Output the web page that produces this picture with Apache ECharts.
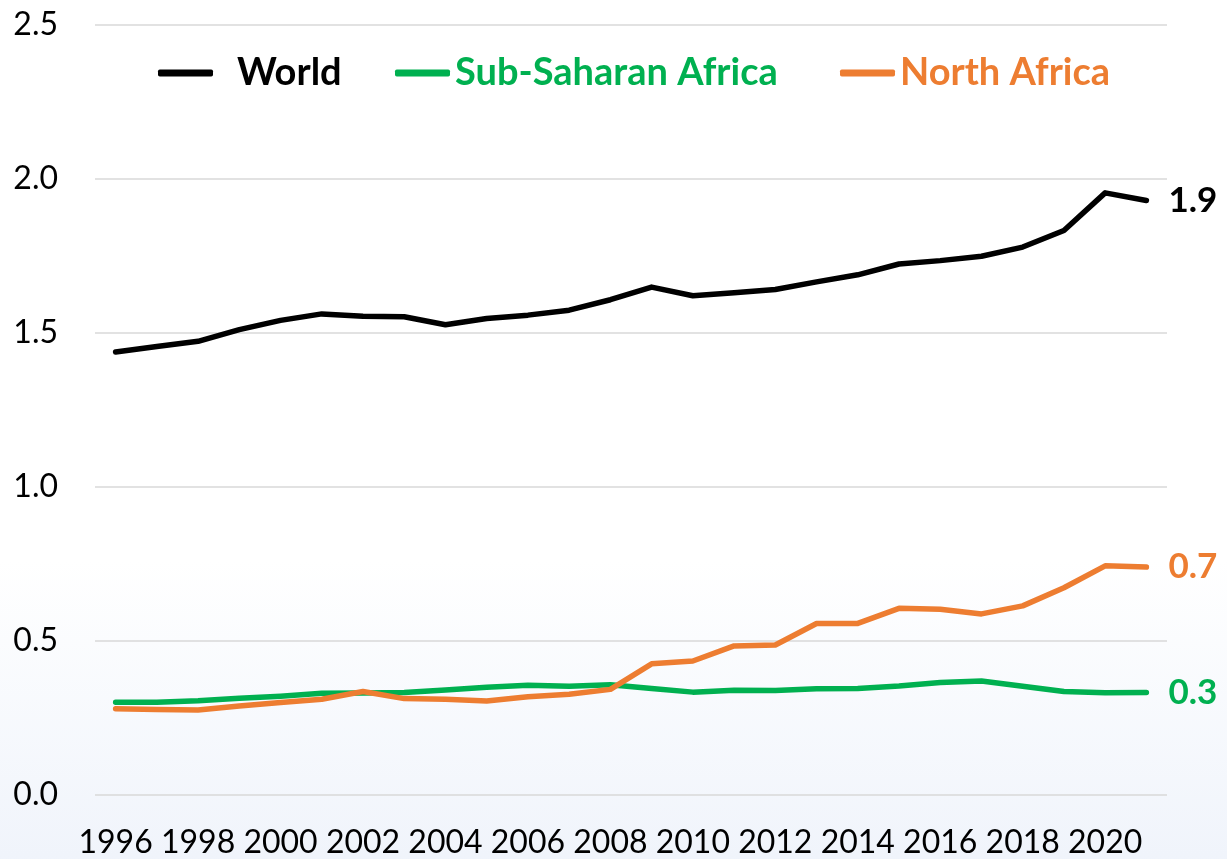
<!DOCTYPE html>
<html>
<head>
<meta charset="utf-8">
<script src="https://cdn.jsdelivr.net/npm/echarts@6/dist/echarts.min.js"></script>
<style>
html,body{margin:0;padding:0;background:#fff;}
#c{width:1227px;height:859px;}
</style>
</head>
<body>
<div id="c"></div>
<script>
var years = ['1996','1997','1998','1999','2000','2001','2002','2003','2004','2005','2006','2007','2008','2009','2010','2011','2012','2013','2014','2015','2016','2017','2018','2019','2020','2021'];
var world = [1.438,1.456,1.473,1.511,1.541,1.562,1.554,1.553,1.527,1.547,1.558,1.574,1.608,1.649,1.621,1.631,1.641,1.666,1.689,1.724,1.735,1.749,1.779,1.833,1.955,1.930];
var subSaharan = [0.301,0.301,0.306,0.314,0.321,0.330,0.331,0.333,0.341,0.350,0.356,0.353,0.358,0.346,0.334,0.340,0.339,0.345,0.346,0.354,0.365,0.370,0.353,0.336,0.332,0.333];
var northAfrica = [0.280,0.278,0.276,0.289,0.300,0.311,0.336,0.313,0.311,0.305,0.319,0.327,0.343,0.426,0.435,0.484,0.487,0.557,0.557,0.606,0.603,0.588,0.614,0.673,0.744,0.740];
var yTicks = {min:0, max:2.5, interval:0.5};

var FONT = 'Lato';
var chart = echarts.init(document.getElementById('c'));
function mkSeries(name, data, color){
  return {
    name: name, type: 'line', data: data, symbol: 'none', smooth: false,
    lineStyle: {color: color, width: 5.5, cap: 'round', join: 'round'},
    itemStyle: {color: color},
    endLabel: {show: true, distance: 22, color: color, fontFamily: FONT, fontWeight: 'bold', fontSize: 35,
      formatter: function(p){ return Number(p.value).toFixed(1); }},
    z: 3
  };
}
function mkLegend(name, left, color, pad){
  return {
    data: [name], left: left, top: 54, padding: 0, itemWidth: 55, itemHeight: 7, icon: 'roundRect',
    textStyle: {color: color, fontFamily: FONT, fontWeight: 'bold', fontSize: 38, padding: [0,0,0,pad]},
    selectedMode: false
  };
}
chart.setOption({
  animation: false,
  backgroundColor: '#ffffff',
  graphic: [{
    type: 'rect', z: -10, silent: true,
    shape: {x: 0, y: 560, width: 1227, height: 299},
    style: {fill: new echarts.graphic.LinearGradient(0,0,0,1,[
      {offset:0, color:'rgba(238,243,251,0)'},
      {offset:0.5, color:'rgba(238,243,251,0.45)'},
      {offset:1, color:'rgba(236,241,250,0.8)'}])}
  }],
  legend: [
    mkLegend('World', 158, '#000000', 19),
    mkLegend('Sub-Saharan Africa', 395, '#00B050', 0),
    mkLegend('North Africa', 840, '#ED7D31', 0)
  ],
  grid: {left: 95, right: 60, top: 25, bottom: 63.5, containLabel: false},
  xAxis: {
    type: 'category', data: years, boundaryGap: true,
    axisLine: {show: false}, axisTick: {show: false},
    axisLabel: {interval: 1, color: '#000', fontFamily: FONT, fontSize: 32, margin: 32}
  },
  yAxis: {
    type: 'value', min: yTicks.min, max: yTicks.max, interval: yTicks.interval,
    axisLine: {show: false}, axisTick: {show: false},
    splitLine: {lineStyle: {color: '#d9d9d9', width: 1.5}},
    axisLabel: {color: '#000', fontFamily: FONT, fontSize: 32, margin: 37,
      formatter: function(v){ return v.toFixed(1); }}
  },
  series: [
    mkSeries('World', world, '#000000'),
    mkSeries('Sub-Saharan Africa', subSaharan, '#00B050'),
    mkSeries('North Africa', northAfrica, '#ED7D31')
  ]
});
</script>
</body>
</html>
